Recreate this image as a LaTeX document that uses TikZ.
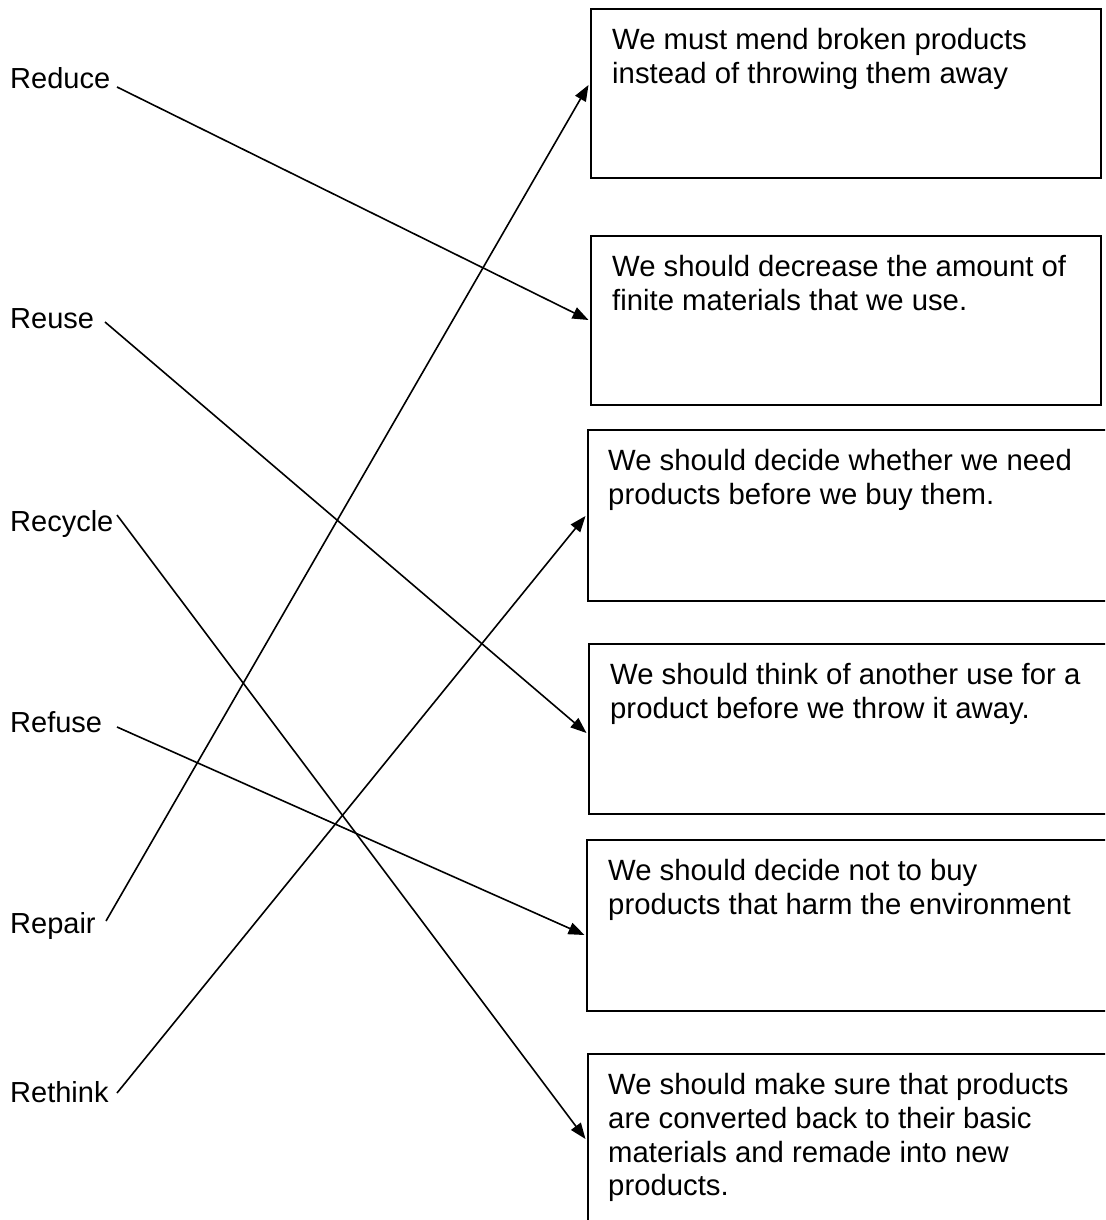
\documentclass[tikz,border=0pt]{standalone}
\usepackage{fontspec}
\setmainfont{Liberation Sans}
\usetikzlibrary{arrows.meta}
\begin{document}
\begin{tikzpicture}[x=1pt,y=-1pt,
  box/.style={draw, line width=1.7pt, anchor=north west, inner sep=0pt},
  boxtext/.style={anchor=north west, inner sep=0pt, align=left, font=\fontsize{29.3}{33.8}\selectfont},
  word/.style={anchor=base west, inner sep=0pt, font=\fontsize{29}{33.8}\selectfont},
  link/.style={line width=1.6pt, -{Triangle[length=16pt,width=12pt]}}]
\clip (0,0) rectangle (1105,1220);
% boxes
\node[box, minimum width=510pt, minimum height=169pt] (b1) at (590,8) {};
\node[box, minimum width=510pt, minimum height=169pt] (b2) at (590,235) {};
\node[box, minimum width=530pt, minimum height=171pt] (b3) at (587,429) {};
\node[box, minimum width=530pt, minimum height=170pt] (b4) at (588,643) {};
\node[box, minimum width=530pt, minimum height=171pt] (b5) at (586,839) {};
\node[box, minimum width=530pt, minimum height=200pt] (b6) at (587,1053) {};
% box texts
\node[boxtext] (t1) at ([shift={(22,20)}]b1.north west) {We must mend broken products\\instead of throwing them away};
\node[boxtext] (t2) at ([shift={(22,20)}]b2.north west) {We should decrease the amount of\\finite materials that we use.};
\node[boxtext] (t3) at ([shift={(21,20)}]b3.north west) {We should decide whether we need\\products before we buy them.};
\node[boxtext] (t4) at ([shift={(22,20)}]b4.north west) {We should think of another use for a\\product before we throw it away.};
\node[boxtext] (t5) at ([shift={(22,20)}]b5.north west) {We should decide not to buy\\products that harm the environment};
\node[boxtext] (t6) at ([shift={(21,20)}]b6.north west) {We should make sure that products\\are converted back to their basic\\materials and remade into new\\products.};
% labels
\node[word] (reduce) at (10,89) {Reduce};
\node[word] (reuse) at (10,328) {Reuse};
\node[word] (recycle) at (10,531) {Recycle};
\node[word] (refuse) at (10,732) {Refuse};
\node[word] (repair) at (10,933) {Repair};
\node[word] (rethink) at (10,1102) {Rethink};
% start points
\coordinate (sreduce) at (117,87);
\coordinate (sreuse) at (105,322);
\coordinate (srecycle) at (117,515);
\coordinate (srefuse) at (117,727);
\coordinate (srepair) at (106,921);
\coordinate (srethink) at (117,1093);
% connectors
\draw[link] (sreduce) -- ([shift={(-1.5,85)}]b2.north west);
\draw[link] (sreuse) -- ([shift={(-1.5,90)}]b4.north west);
\draw[link] (srecycle) -- ([shift={(-1.5,86)}]b6.north west);
\draw[link] (srefuse) -- ([shift={(-1.5,96)}]b5.north west);
\draw[link] (srepair) -- ([shift={(-1.5,77)}]b1.north west);
\draw[link] (srethink) -- ([shift={(-1.5,87)}]b3.north west);
\end{tikzpicture}
\end{document}
